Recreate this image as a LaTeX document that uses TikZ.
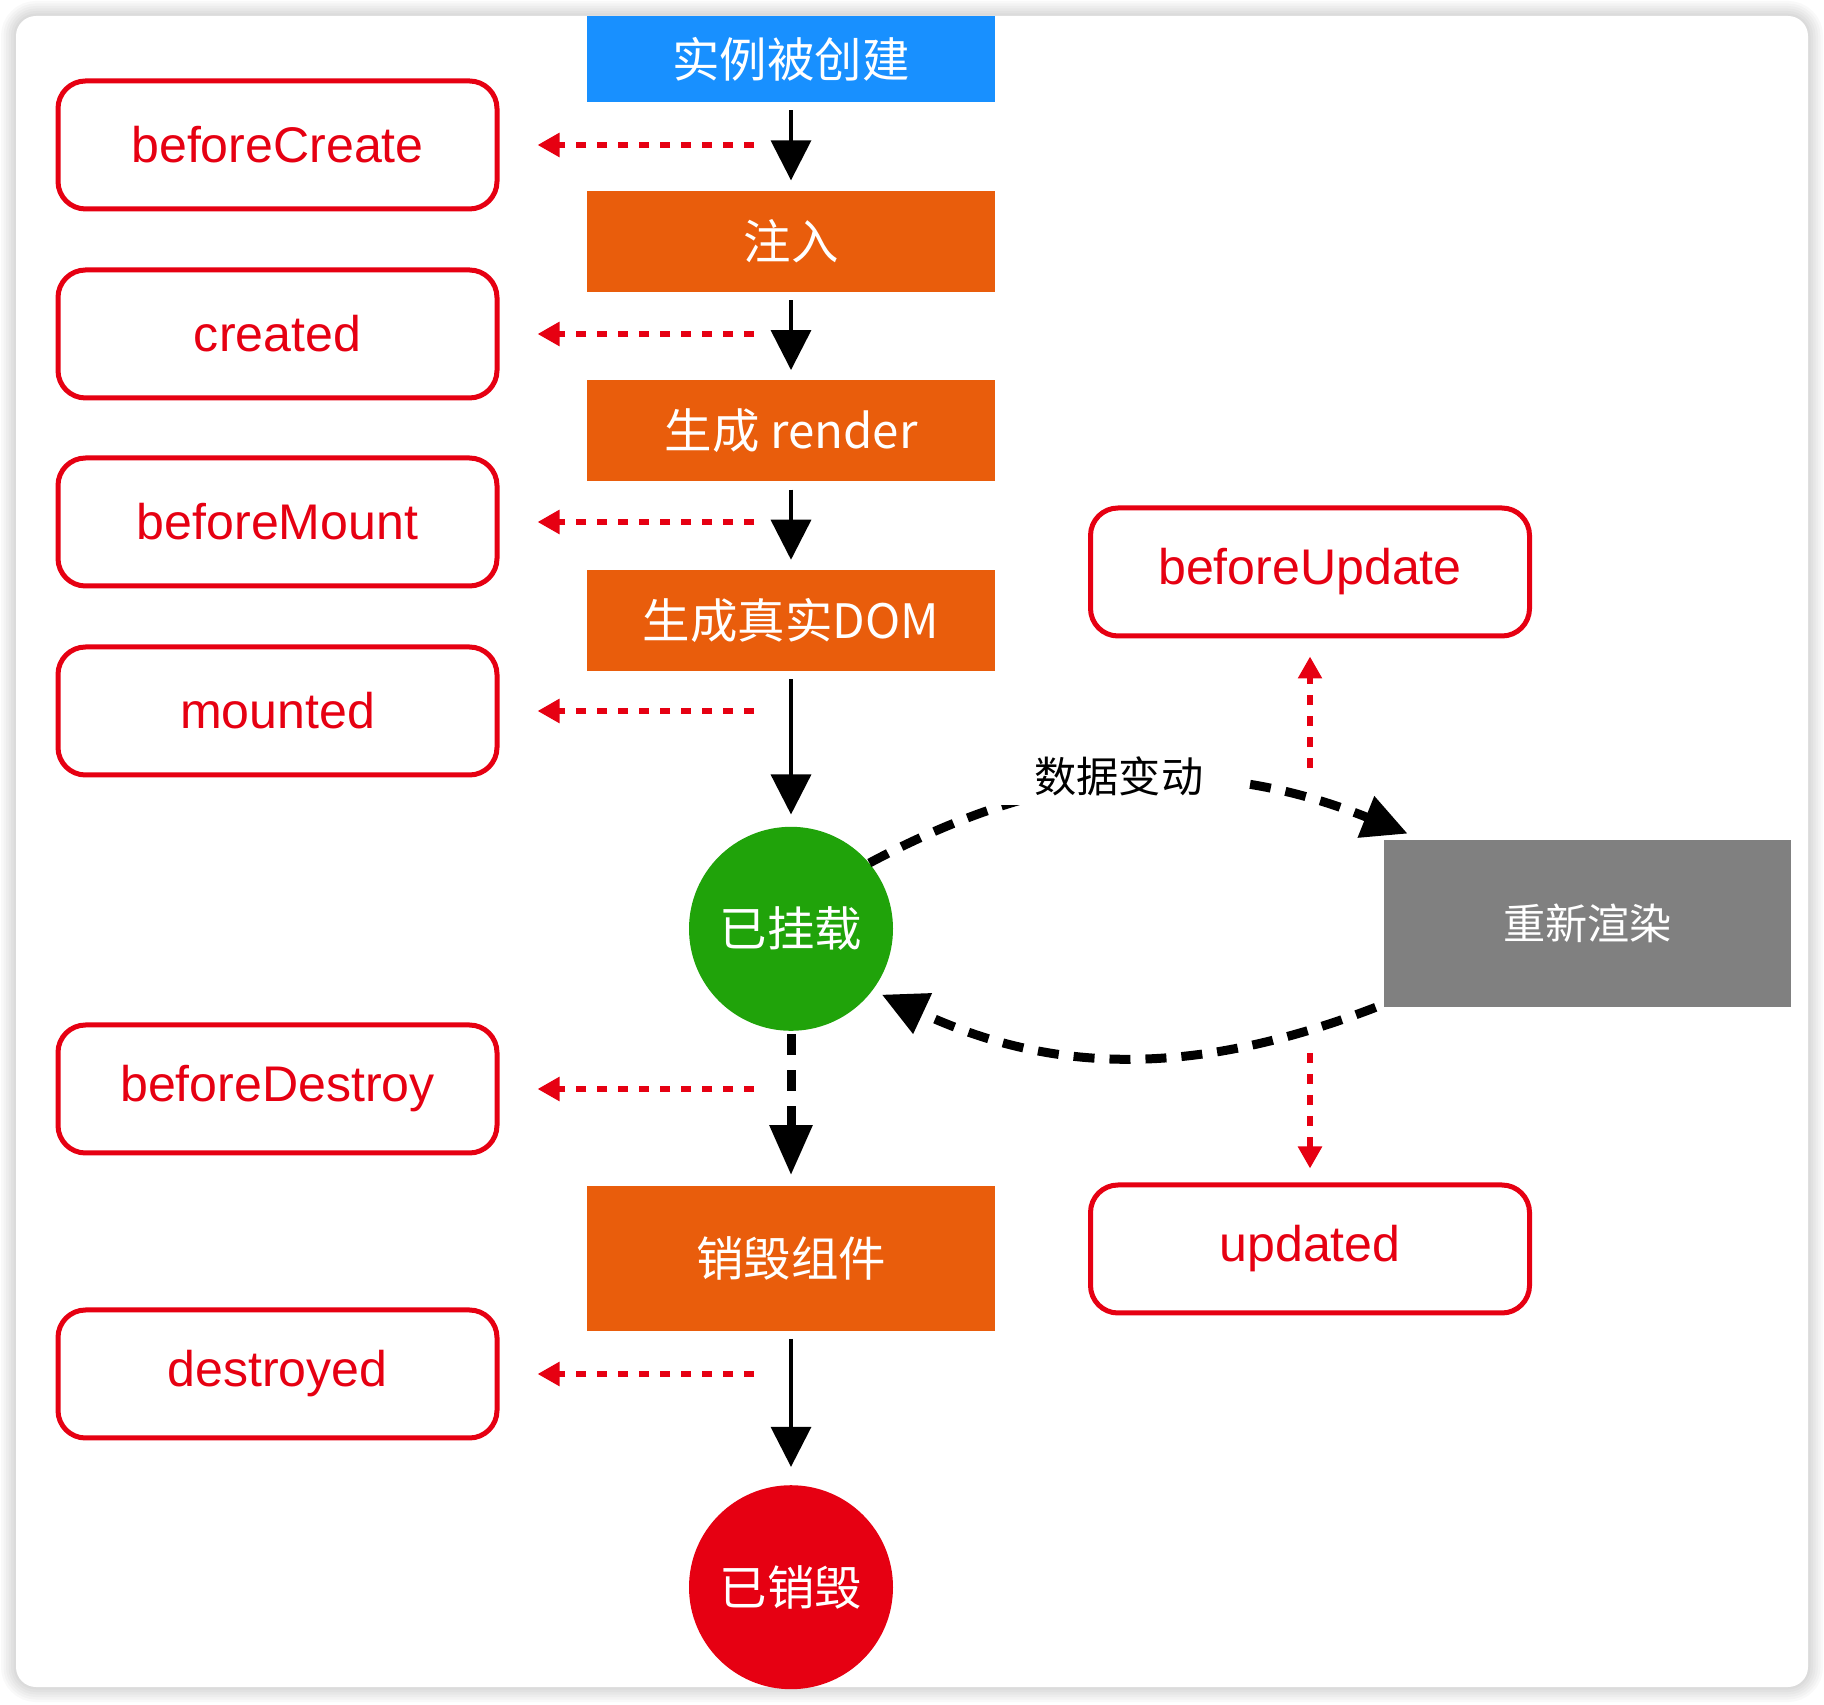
\documentclass[tikz,border=0pt]{standalone}
\usepackage{fontspec}
\setmainfont{Liberation Sans}
\newfontfamily\cjk{Noto Sans CJK SC}
\usetikzlibrary{arrows.meta,positioning}

\definecolor{vueblue}{RGB}{24,144,255}
\definecolor{vueorange}{RGB}{233,93,12}
\definecolor{vuegreen}{RGB}{32,163,10}
\definecolor{vuered}{RGB}{230,0,18}
\definecolor{vuegray}{RGB}{128,128,128}

\begin{document}
\begin{tikzpicture}

\tikzset{stage/.style={fill=vueorange,text=white,inner sep=0pt,minimum width=8.16cm,minimum height=2.02cm,shape=rectangle,font=\cjk\fontsize{27}{32}\selectfont},
firststage/.style={stage,fill=vueblue,minimum height=1.72cm},
state/.style={fill=vuegreen,text=white,inner sep=0pt,minimum size=4.08cm,shape=circle,font=\cjk\fontsize{27}{32}\selectfont},
hook/.style={fill=white,draw=vuered,text=vuered,line width=0.1cm,rounded corners=0.55cm,inner sep=0pt,minimum width=8.78cm,minimum height=2.56cm,shape=rectangle,font=\fontsize{28.5}{34}\selectfont},
flow/.style={-{Triangle[length=0.8cm,width=0.8cm]},line width=0.07cm,shorten <=0.16cm,shorten >=0.2cm},
dashflow/.style={-{Triangle[length=1cm,width=0.82cm]},line width=0.18cm,dash pattern=on 0.42cm off 0.3cm},
hookflow/.style={-{Triangle[length=0.44cm,width=0.46cm]},vuered,line width=0.12cm,dash pattern=on 0.2cm off 0.22cm,shorten >=0.76cm}}

% Card and shadow
\useasboundingbox (0,0) rectangle (36.48,34.08);
\fill[white] (0,0) rectangle (36.48,34.08);
\foreach \w in {0.1,0.2,0.3,0.4,0.5,0.6} \draw[black,opacity=0.025,line width=\w cm,rounded corners=0.4cm] (0.32,0.34) rectangle (36.16,33.76);
\fill[white,rounded corners=0.4cm] (0.32,0.34) rectangle (36.16,33.76);

% Lifecycle stages
\node (create) [firststage] at (15.82,32.9) {实例被创建};
\node (inject) [below=1.76cm of create,stage] {注入};
\node (render) [below=1.76cm of inject,stage] {生成 render};
\node (dom) [below=1.76cm of render,stage] {生成真实DOM};
\node (mounted) [below=3.1cm of dom,state] {已挂载};
\node (destroy) [below=3.08cm of mounted,stage,minimum height=2.9cm] {销毁组件};
\node (destroyed) [below=3.08cm of destroy,state,fill=vuered] {已销毁};
\node (rerender) [stage,fill=vuegray,minimum width=8.14cm,minimum height=3.34cm,font=\cjk\fontsize{24}{29}\selectfont] at (31.75,15.61) {重新渲染};

% Lifecycle hooks
\node (bc) [hook] at (5.55,31.18) {beforeCreate};
\node (cr) [hook] at (5.55,27.4) {created};
\node (bm) [hook] at (5.55,23.64) {beforeMount};
\node (mo) [hook] at (5.55,19.86) {mounted};
\node (bd) [hook] at (5.55,12.3) {beforeDestroy};
\node (de) [hook] at (5.55,6.6) {destroyed};
\node (bu) [hook] at (26.2,22.64) {beforeUpdate};
\node (up) [hook] at (26.2,9.1) {updated};

% Arrows between stages
\draw[flow] (create) -- (inject);
\draw[flow] (inject) -- (render);
\draw[flow] (render) -- (dom);
\draw[flow,shorten >=0.24cm] (dom) -- (mounted);
\draw[dashflow,shorten <=0.06cm,shorten >=0.2cm] (mounted) -- (destroy);
\draw[flow,shorten >=0.36cm] (destroy) -- (destroyed);

% Update loop
\draw[dashflow,-{Triangle[length=0.9cm,width=0.85cm]}] (mounted.40) to[bend left=25] node[fill=white,text=black,inner xsep=0.7cm,inner ysep=5pt,xshift=-0.32cm,yshift=0.1cm,font=\cjk\fontsize{24}{29}\selectfont] {数据变动} ([xshift=0.48cm,yshift=0.12cm]rerender.north west);
\draw[dashflow,-{Triangle[length=0.9cm,width=0.85cm]},shorten >=0.2cm] ([xshift=-0.16cm]rerender.south west) to[bend left=23] (mounted.-37);

% Arrows to hooks
\draw[hookflow] ([xshift=9.53cm]bc.center) -- (bc);
\draw[hookflow] ([xshift=9.53cm]cr.center) -- (cr);
\draw[hookflow] ([xshift=9.53cm]bm.center) -- (bm);
\draw[hookflow] ([xshift=9.53cm]mo.center) -- (mo);
\draw[hookflow] ([xshift=9.53cm]bd.center) -- (bd);
\draw[hookflow] ([xshift=9.53cm]de.center) -- (de);
\draw[hookflow,shorten >=0.36cm] ([yshift=-3.92cm]bu.center) -- (bu);
\draw[hookflow,shorten >=0.28cm] ([yshift=3.92cm]up.center) -- (up);

\end{tikzpicture}
\end{document}
